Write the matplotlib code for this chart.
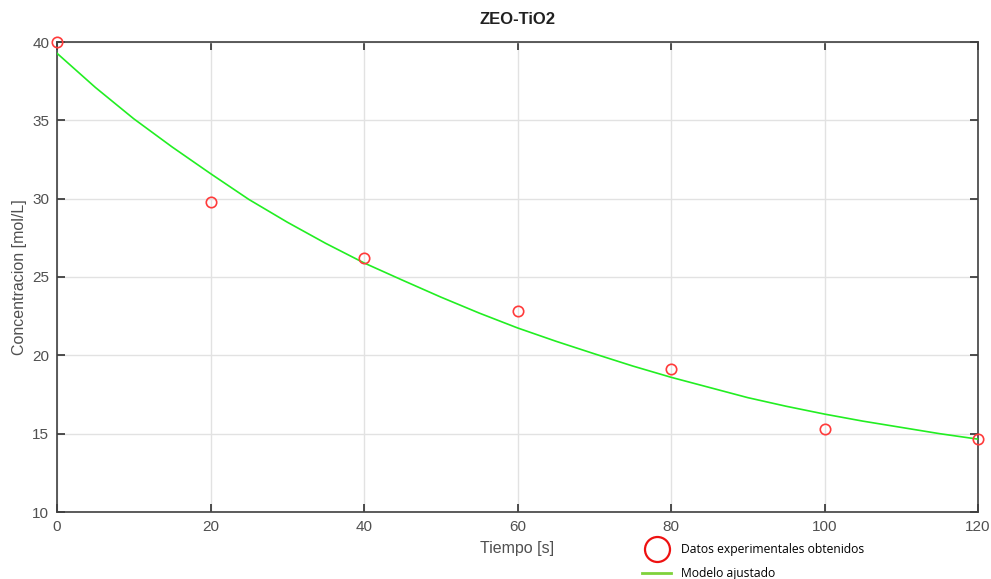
import matplotlib
matplotlib.use("Agg")
import matplotlib.pyplot as plt
from matplotlib.lines import Line2D

# Experimental data
t_exp = [0, 20, 40, 60, 80, 100, 120]
c_exp = [40.0, 29.8, 26.2, 22.8, 19.1, 15.3, 14.66]

# Fitted model curve (every 5 s)
t_mod = [0, 5, 10, 15, 20, 25, 30, 35, 40, 45, 50, 55, 60,
         65, 70, 75, 80, 85, 90, 95, 100, 105, 110, 115, 120]
c_mod = [39.28, 37.1, 35.1, 33.3, 31.6, 29.95, 28.5, 27.15, 25.9, 24.8, 23.72, 22.7, 21.75,
         20.9, 20.1, 19.32, 18.6, 17.95, 17.3, 16.75, 16.25, 15.8, 15.4, 15.0, 14.65]

xticks = [0, 20, 40, 60, 80, 100, 120]
yticks = [10, 15, 20, 25, 30, 35, 40]

plt.rcParams['font.family'] = ['Liberation Sans', 'DejaVu Sans']

fig = plt.figure(figsize=(9.91, 5.79), dpi=100)
ax = fig.add_axes([57/991, 1-512/579, (978-57)/991, (512-42)/579])

ax.plot(t_mod, c_mod, color='#22ee22', lw=1.2, zorder=3)
ax.plot(t_exp, c_exp, 'o', mfc='none', mec='#ff3b3b', mew=1.2, ms=7.5,
        clip_on=False, zorder=4)

ax.set_xlim(0, 120)
ax.set_ylim(10, 40)
ax.set_xticks(xticks)
ax.set_yticks(yticks)
ax.grid(True, color='#e2e2e2', lw=1.0)
ax.set_axisbelow(True)
ax.tick_params(direction='in', length=6, width=1.2, top=True, right=True,
               labelsize=11, labelcolor='#505050', color='#303030', pad=5.5)
for s in ax.spines.values():
    s.set_color('#404040')
    s.set_linewidth(1.2)

ax.set_title('ZEO-TiO2', fontsize=12, fontweight='bold', color='#202020', pad=13)
ax.set_xlabel('Tiempo [s]', fontsize=11.5, color='#505050', labelpad=5)
ax.set_ylabel('Concentracion [mol/L]', fontsize=11.5, color='#505050', labelpad=4)

handles = [
    Line2D([], [], ls='none', marker='o', mfc='none', mec='#ee1111', mew=1.6, ms=18),
    Line2D([], [], color='#7fd13b', lw=2),
]
labels = ['Datos experimentales obtenidos', 'Modelo ajustado']
fig.legend(handles, labels, loc='upper left', bbox_to_anchor=(642/991, 1-543/579),
           frameon=False, handlelength=2.4, handletextpad=0.8,
           labelspacing=0.9, borderaxespad=0, borderpad=0,
           prop={'family': ['Open Sans', 'DejaVu Sans'], 'size': 8.7})

fig.savefig('out.png', dpi=100)
